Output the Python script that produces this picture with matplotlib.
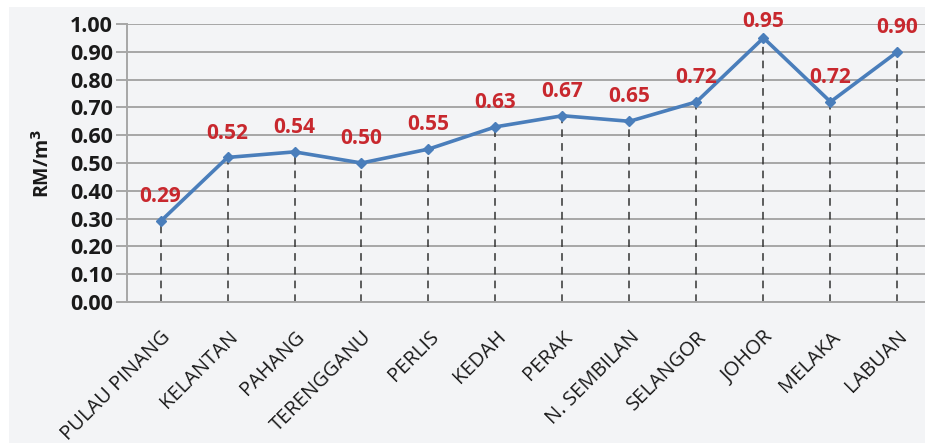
import matplotlib
matplotlib.use("Agg")
import matplotlib.pyplot as plt
from matplotlib.patches import Rectangle

states = ["PULAU PINANG", "KELANTAN", "PAHANG", "TERENGGANU", "PERLIS", "KEDAH",
          "PERAK", "N. SEMBILAN", "SELANGOR", "JOHOR", "MELAKA", "LABUAN"]
values = [0.29, 0.52, 0.54, 0.50, 0.55, 0.63, 0.67, 0.65, 0.72, 0.95, 0.72, 0.90]
yticks = [0.0, 0.1, 0.2, 0.3, 0.4, 0.5, 0.6, 0.7, 0.8, 0.9, 1.0]

W, H = 925, 444
fig = plt.figure(figsize=(W / 100, H / 100), dpi=100)
fig.patch.set_facecolor("white")
bg = "#f3f4f6"
fig.patches.append(Rectangle((9 / W, 1 / H), 1 - 9 / W, (H - 8) / H, transform=fig.transFigure,
                             facecolor=bg, edgecolor="none", zorder=-10))

left, right = 127, 931
top, bottom = 24, 302
ax = fig.add_axes([left / W, 1 - bottom / H, (right - left) / W, (bottom - top) / H])
ax.set_facecolor("none")

x = list(range(len(states)))
ax.set_xlim(-0.5, len(states) - 0.5)
ax.set_ylim(0, 1.0)

ax.set_yticks(yticks)
ax.set_yticklabels([f"{v:.2f}" for v in yticks], fontsize=15.5, fontweight="bold",
                   family="Open Sans", color="#1a1a1a")
ax.yaxis.grid(True, color="#a6a6a6", linewidth=1.4)
ax.tick_params(axis="y", length=8, width=1.4, color="#a6a6a6", pad=2)
ax.set_axisbelow(True)

for s in ["top", "right"]:
    ax.spines[s].set_visible(False)
ax.spines["left"].set_color("#a6a6a6")
ax.spines["left"].set_linewidth(1.4)
ax.spines["bottom"].set_color("#a6a6a6")
ax.spines["bottom"].set_linewidth(1.4)

ax.vlines(x, 0, values, colors="#333333", linestyles=(0, (5, 4)), linewidth=1.1, zorder=2)
ax.plot(x, values, color="#4a7ebb", linewidth=2.6, marker="D", markersize=5,
        markerfacecolor="#4a7ebb", markeredgecolor="#4a7ebb", zorder=3)

for xi, v in zip(x, values):
    off = 10 if v < 0.92 else 4
    ax.annotate(f"{v:.2f}", (xi, v), xytext=(0, off), textcoords="offset points",
                ha="center", va="bottom", fontsize=15, fontweight="bold",
                family="Open Sans", color="#c8282e", zorder=4)

ax.set_xticks(x)
ax.set_xticklabels(states, rotation=45, ha="right", rotation_mode="anchor",
                   fontsize=14.5, family="Open Sans", color="#1a1a1a")
ax.tick_params(axis="x", length=0, pad=18)

ax.set_ylabel("RM/m$^\\mathbf{3}$", fontsize=14, fontweight="bold", family="Open Sans",
              color="#1a1a1a", labelpad=12)

fig.savefig("out.png", dpi=100, facecolor=fig.get_facecolor())
